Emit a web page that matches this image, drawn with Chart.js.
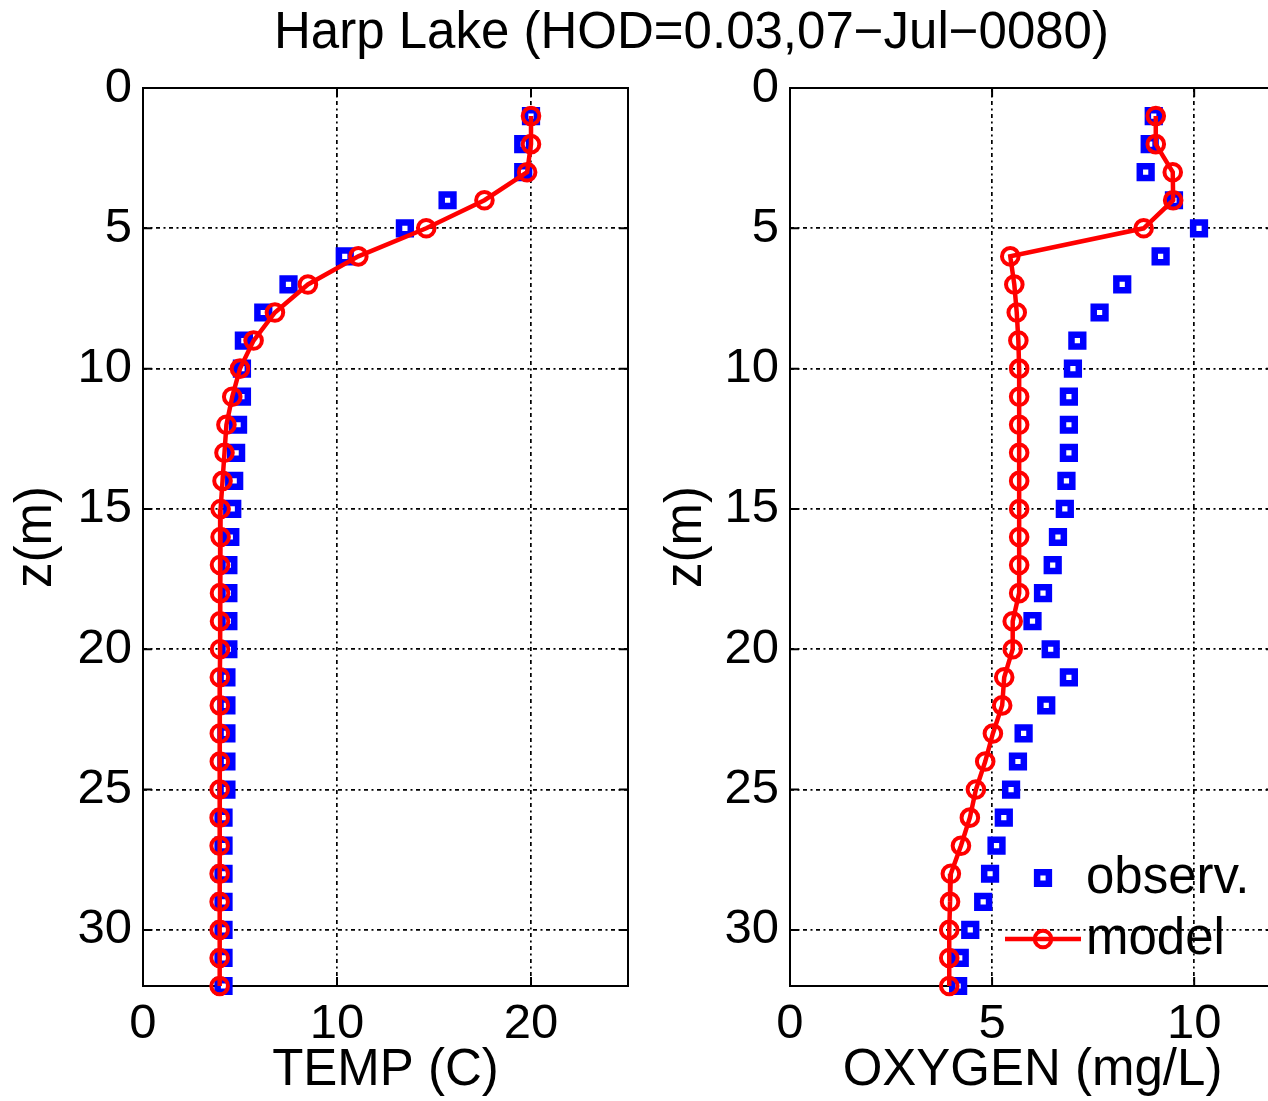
<!DOCTYPE html>
<html><head><meta charset="utf-8">
<script src="https://cdn.jsdelivr.net/npm/chart.js@4.4.1/dist/chart.umd.min.js"></script>
<style>
html,body{margin:0;padding:0;width:1268px;height:1101px;overflow:hidden;background:#fff;}
#title{position:absolute;left:0;width:1383px;top:5px;text-align:center;font:51px/51px "Liberation Sans",Arial,sans-serif;color:#000;white-space:nowrap;}
.wrap{position:absolute;top:0;width:650px;height:1101px;}
</style></head><body>
<div id="title">Harp Lake (HOD=0.03,07−Jul−0080)</div>
<div class="wrap" style="left:0"><canvas id="c1" width="650" height="1101"></canvas></div>
<div class="wrap" style="left:650px"><canvas id="c2" width="650" height="1101"></canvas></div>
<script>
const depth = [1,2,3,4,5,6,7,8,9,10,11,12,13,14,15,16,17,18,19,20,21,22,23,24,25,26,27,28,29,30,31,32];
const tempObs = [20.0,19.6,19.6,15.7,13.5,10.4,7.5,6.2,5.2,5.1,5.1,4.9,4.8,4.7,4.6,4.5,4.4,4.4,4.4,4.4,4.3,4.3,4.3,4.3,4.3,4.15,4.15,4.15,4.15,4.15,4.15,4.15];
const tempModel = [20.0,20.0,19.8,17.6,14.6,11.1,8.5,6.8,5.7,5.0,4.6,4.3,4.2,4.1,4.0,4.0,3.97,3.97,3.97,3.97,3.96,3.96,3.96,3.96,3.95,3.95,3.95,3.95,3.95,3.95,3.95,3.95];
const oxyObs = [9.0,8.9,8.8,9.5,10.12,9.17,8.22,7.66,7.11,7.0,6.9,6.9,6.9,6.84,6.8,6.63,6.5,6.26,6.0,6.45,6.9,6.34,5.78,5.64,5.47,5.29,5.11,4.95,4.78,4.46,4.2,4.16];
const oxyModel = [9.05,9.05,9.47,9.48,8.75,5.45,5.55,5.61,5.65,5.67,5.67,5.67,5.67,5.67,5.67,5.67,5.67,5.67,5.51,5.51,5.3,5.25,5.02,4.83,4.6,4.45,4.23,3.98,3.96,3.94,3.94,3.94];
const yTicks = [0,5,10,15,20,25,30];
const tempTicks = [0,10,20];
const oxyTicks = [0,5,10];
const labels = {y:'z(m)', temp:'TEMP (C)', oxy:'OXYGEN (mg/L)', obs:'observ.', model:'model'};

const FAM = '"Liberation Sans", Arial, sans-serif';
const FONT = {family: FAM, size: 49, lineHeight: 1};
const TFONT = {family: FAM, size: 51, lineHeight: 1};
const BLUE = '#0000ff', RED = '#ff0000';
const DASH = [4, 3.5, 2, 3.5];

const framePlugin = {
  id: 'frame',
  beforeDatasetsDraw(chart) {
    const {ctx, chartArea: a, scales} = chart;
    ctx.save();
    ctx.strokeStyle = '#000';
    ctx.lineWidth = 2;
    ctx.setLineDash([]);
    ctx.strokeRect(a.left, a.top, a.right - a.left, a.bottom - a.top);
    const L = 9;
    ctx.beginPath();
    scales.x.ticks.forEach(t => {
      const p = scales.x.getPixelForValue(t.value);
      ctx.moveTo(p, a.bottom); ctx.lineTo(p, a.bottom - L);
      ctx.moveTo(p, a.top); ctx.lineTo(p, a.top + L);
    });
    scales.y.ticks.forEach(t => {
      const p = scales.y.getPixelForValue(t.value);
      ctx.moveTo(a.left, p); ctx.lineTo(a.left + L, p);
      ctx.moveTo(a.right, p); ctx.lineTo(a.right - L, p);
    });
    ctx.stroke();
    ctx.restore();
  }
};

const legendPlugin = {
  id: 'inLegend',
  afterDatasetsDraw(chart, args, opts) {
    if (!opts || !opts.show) return;
    const {ctx, chartArea: a} = chart;
    const ds = chart.data.datasets;
    ctx.save();
    ctx.font = '51px ' + FAM;
    ctx.textAlign = 'left';
    ctx.textBaseline = 'alphabetic';
    ds.forEach((d, i) => {
      const mx = a.right + opts.markerDx, my = a.bottom + opts.rowDy[i];
      if (d.showLine) {
        ctx.strokeStyle = d.borderColor; ctx.lineWidth = d.borderWidth; ctx.setLineDash([]);
        ctx.beginPath(); ctx.moveTo(mx - opts.lineHalf, my); ctx.lineTo(mx + opts.lineHalf, my); ctx.stroke();
      }
      ctx.fillStyle = d.pointBackgroundColor; ctx.strokeStyle = d.pointBorderColor; ctx.lineWidth = d.pointBorderWidth;
      Chart.helpers.drawPoint(ctx, {pointStyle: d.pointStyle, radius: d.pointRadius, borderWidth: d.pointBorderWidth, rotation: 0}, mx, my);
      ctx.fillStyle = '#000';
      ctx.fillText(d.label, a.right + opts.textDx, my + opts.textBaseDy);
    });
    ctx.restore();
  }
};

function makeChart(id, obs, model, xmax, xTicks, xTitle, yWidth, padRight, showLegend) {
  const obsPts = depth.map((z, i) => ({x: obs[i], y: z}));
  const modPts = depth.map((z, i) => ({x: model[i], y: z}));
  return new Chart(document.getElementById(id), {
    type: 'scatter',
    data: {
      datasets: [
        {label: labels.obs, data: obsPts, showLine: false, pointStyle: 'rect', pointRadius: 8.3, pointHoverRadius: 8.3,
         pointBorderWidth: 6.5, pointBorderColor: BLUE, pointBackgroundColor: '#ffffff', borderColor: BLUE, order: 2, clip: false},
        {label: labels.model, data: modPts, showLine: true, borderColor: RED, borderWidth: 4.5, pointStyle: 'circle',
         pointRadius: 8.3, pointHoverRadius: 8.3, pointBorderWidth: 4, pointBorderColor: RED, pointBackgroundColor: 'rgba(0,0,0,0)',
         order: 1, clip: false, tension: 0}
      ]
    },
    options: {
      responsive: false, animation: false, devicePixelRatio: 1,
      layout: {padding: {top: 88, right: padRight, left: 0, bottom: 0}},
      plugins: {legend: {display: false}, tooltip: {enabled: false}, title: {display: false},
        inLegend: {show: showLegend, markerDx: -232, rowDy: [-108, -47], textDx: -189, textBaseDy: 15, lineHalf: 38}},
      scales: {
        x: {type: 'linear', min: 0, max: xmax, position: 'bottom',
          afterBuildTicks: s => { s.ticks = xTicks.map(v => ({value: v})); },
          afterFit: s => { s.height = 115; },
          ticks: {font: FONT, color: '#000', padding: 13.5, maxRotation: 0, autoSkip: false},
          grid: {color: '#000', lineWidth: 1.7, drawTicks: false},
          border: {display: false, dash: DASH},
          title: {display: true, text: xTitle, font: TFONT, color: '#000', padding: {top: 0, bottom: 5}}},
        y: {type: 'linear', min: 0, max: 32, reverse: true, position: 'left',
          afterBuildTicks: s => { s.ticks = yTicks.map(v => ({value: v})); },
          afterFit: s => { s.width = yWidth; },
          ticks: {font: FONT, color: '#000', padding: 11, autoSkip: false},
          grid: {color: '#000', lineWidth: 1.7, drawTicks: false},
          border: {display: false, dash: DASH},
          title: {display: true, text: labels.y, font: TFONT, color: '#000', padding: {top: 11.5, bottom: 0}}}
      }
    },
    plugins: [framePlugin, legendPlugin]
  });
}

makeChart('c1', tempObs, tempModel, 25, tempTicks, labels.temp, 143, 22, false);
makeChart('c2', oxyObs, oxyModel, 12, oxyTicks, labels.oxy, 140, 25, true);
</script>
</body></html>
